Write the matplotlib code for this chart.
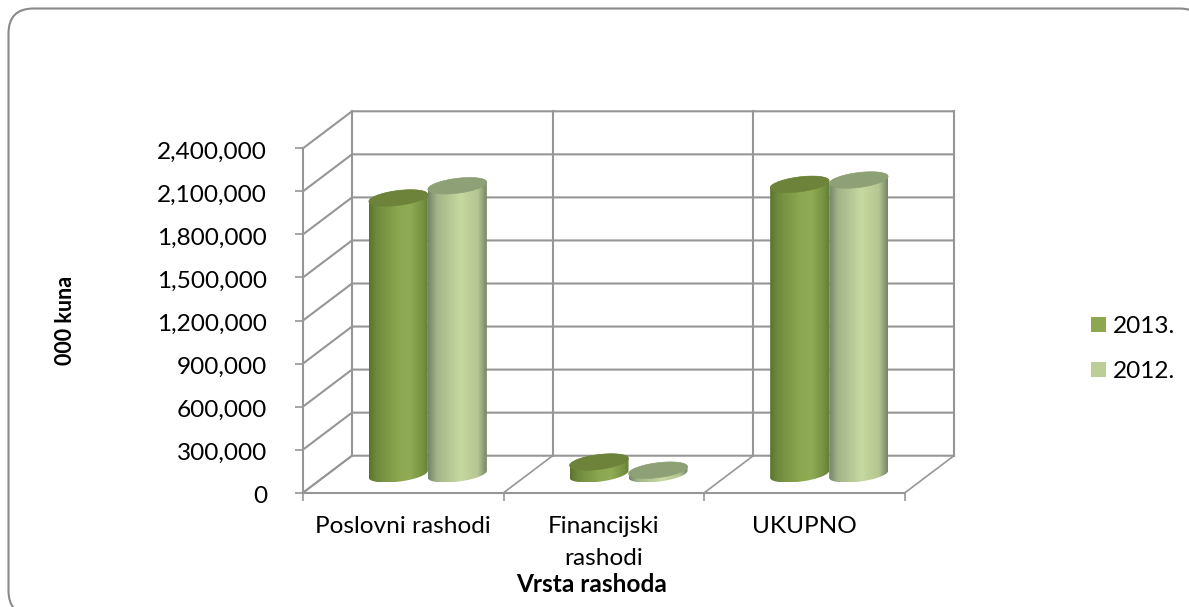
import numpy as np
import matplotlib
matplotlib.use('Agg')
import matplotlib.pyplot as plt
from matplotlib.colors import LinearSegmentedColormap
from matplotlib.patches import FancyBboxPatch, Patch, Polygon
from matplotlib.transforms import ScaledTranslation

categories = ['Poslovni rashodi', 'Financijski\nrashodi', 'UKUPNO']
series_names = ['2013.', '2012.']
values_2013 = [1925000, 85000, 2020000]
values_2012 = [2010000, 28000, 2050000]
y_ticks = [0, 300000, 600000, 900000, 1200000, 1500000, 1800000, 2100000, 2400000]

W, H = 1189, 607
plt.rcParams['font.family'] = ['Lato', 'DejaVu Sans']

GRID = '#969696'
DARK_SIDE = LinearSegmentedColormap.from_list('dark', [(0, '#5a742e'), (0.12, '#6f8a3c'), (0.5, '#8ca750'),
                                                       (0.7, '#8fab55'), (0.92, '#76913f'), (1, '#64803a')])
LIGHT_SIDE = LinearSegmentedColormap.from_list('light', [(0, '#75856a'), (0.15, '#a3b488'), (0.55, '#c6d9a0'),
                                                         (0.85, '#b5c692'), (1, '#75856a')])
DARK_TOP = '#6c8339'
LIGHT_TOP = '#8da076'

fig = plt.figure(figsize=(W / 100, H / 100), dpi=100)

# outer rounded frame, in pixels; right and bottom edges run off the picture
bg = fig.add_axes([0, 0, 1, 1])
bg.set_xlim(0, W)
bg.set_ylim(H, 0)
bg.axis('off')
bg.add_patch(FancyBboxPatch((33.5, 33.5), 1146, 557, boxstyle='round,pad=25,rounding_size=25',
                            fc='white', ec='#8a8a8a', lw=1.5))

# front plane of the 3d box: x 303-905 px, y 492.7-148.3 px
ax = fig.add_axes([303 / W, 1 - 492.7 / H, 602 / W, 344.4 / H])
ax.patch.set_visible(False)
for s in ax.spines.values():
    s.set_visible(False)

px_x = 3 / 602
px_y = 2400000 / 344.4
depth_x = 49 * px_x
depth_y = 37 * px_y
y_max = y_ticks[-1]

# gridlines on back wall, side wall and floor
for v in y_ticks:
    ax.plot([0, depth_x, 3 + depth_x], [v, v + depth_y, v + depth_y], color=GRID, lw=1.5, clip_on=False, zorder=1)
for c in range(4):
    ax.plot([c + depth_x, c + depth_x], [depth_y, y_max + depth_y], color=GRID, lw=1.5, clip_on=False, zorder=1)
    ax.plot([c, c + depth_x], [0, depth_y], color=GRID, lw=1.2, clip_on=False, zorder=1)
ax.plot([0, 3], [0, 0], color=GRID, lw=1.5, clip_on=False, zorder=1)
ax.plot([0, 0], [0, y_max], color=GRID, lw=1.5, clip_on=False, zorder=1)


def ellipse(xc, v):
    t = np.linspace(0, 2 * np.pi, 120)
    xs = xc + 29.5 * px_x * np.cos(t)
    ys = v + (3.5 * np.cos(t) + 7.5 * np.sin(t)) * px_y
    return xs, ys


def cylinder(xc, v, cmap, top, z):
    # base sits half way back on the floor
    y0 = depth_y / 2
    y1 = v + depth_y / 2
    x1, b1 = ellipse(xc, y1)
    t = np.linspace(0, np.pi, 60)
    # outline of the side: lower half of base + upper side of the top ellipse
    xl = xc + 29.5 * px_x * np.cos(t)
    low = y0 + (3.5 * np.cos(t) - 7.5 * np.sin(t)) * px_y
    up = y1 + (3.5 * np.cos(t) + 7.5 * np.sin(t)) * px_y
    poly = np.column_stack([np.r_[xl, xl[::-1]], np.r_[low, up[::-1]]])
    patch = Polygon(poly, closed=True, fc='none', ec='none', transform=ax.transData, clip_on=False)
    ax.add_patch(patch)
    grad = np.linspace(0, 1, 128).reshape(1, -1)
    im = ax.imshow(grad, cmap=cmap, extent=[xc - 29.5 * px_x, xc + 29.5 * px_x, low.min(), up.max()],
                   aspect='auto', zorder=z, interpolation='bilinear', clip_on=True)
    im.set_clip_path(patch)
    ax.fill(x1, b1, fc=top, ec=top, lw=0.4, zorder=z + 0.1, clip_on=False)


centers = np.arange(3) + 0.5 + depth_x / 2
offset = 29.5 * px_x
for i in range(3):
    z_dark = 3 if values_2013[i] > values_2012[i] else 2
    cylinder(centers[i] - offset, values_2013[i], DARK_SIDE, DARK_TOP, z_dark)
    cylinder(centers[i] + offset, values_2012[i], LIGHT_SIDE, LIGHT_TOP, 5 - z_dark)

ax.set_xlim(0, 3)
ax.set_ylim(0, y_max)
ax.set_xticks(range(4))
ax.set_xticklabels([])
ax.set_xticks(np.arange(3) + 0.5, categories, minor=True)
ax.set_yticks(y_ticks)
ax.set_yticklabels([f'{v:,}' for v in y_ticks])
ax.tick_params(axis='y', length=6, width=1.2, color=GRID, labelsize=17.6, pad=20, labelcolor='black')
ax.tick_params(axis='x', which='major', length=6, width=1.2, color=GRID)
ax.tick_params(axis='x', which='minor', length=0, labelsize=17.6, pad=17)
for t in ax.get_xticklabels(minor=True):
    t.set_linespacing(1.6)
# labels sit a little below their ticks in the original
nudge = ScaledTranslation(0, -2 / 100, fig.dpi_scale_trans)
for t in ax.get_yticklabels():
    t.set_transform(t.get_transform() + nudge)

fig.text(592 / W, 1 - 584 / H, 'Vrsta rashoda', fontsize=17.6, fontweight='bold', ha='center', va='center')
fig.text(65 / W, 1 - 320 / H, '000 kuna', fontsize=15.5, fontweight='bold', rotation=90, ha='center', va='center')

handles = [Patch(fc='#8da650', ec='none'), Patch(fc='#bbce97', ec='none')]
fig.legend(handles, series_names, loc='center left', bbox_to_anchor=(1091 / W, 1 - 349 / H), frameon=False,
           fontsize=17.6, handlelength=0.61, handleheight=0.61, handletextpad=0.27, labelspacing=0.98,
           borderpad=0, borderaxespad=0)

fig.savefig('out.png', dpi=100)
